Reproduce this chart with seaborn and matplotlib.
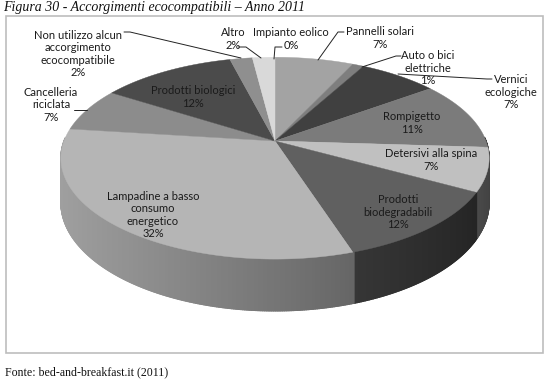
import numpy as np
import matplotlib
matplotlib.use("Agg")
import matplotlib.pyplot as plt
from matplotlib.patches import Rectangle
import seaborn as sns

# ---------------- data ----------------
categories = ["Impianto eolico", "Pannelli solari", "Auto o bici\nelettriche",
              "Vernici\necologiche", "Rompigetto", "Detersivi alla spina",
              "Prodotti\nbiodegradabili", "Lampadine a basso\nconsumo\nenergetico",
              "Cancelleria\nriciclata", "Prodotti biologici",
              "Non utilizzo alcun\naccorgimento\necocompatibile", "Altro"]
percentages = [0, 7, 1, 7, 11, 7, 12, 32, 7, 12, 2, 2]
slice_grays = ["#9a9a9a", "#a3a3a3", "#7e7e7e", "#404040", "#7b7b7b", "#c0c0c0",
               "#606060", "#b5b5b5", "#8c8c8c", "#4b4b4b", "#8f8f8f", "#d9d9d9"]
title = "Figura 30 - Accorgimenti ecocompatibili \u2013 Anno 2011"
source = "Fonte: bed-and-breakfast.it (2011)"

# ---------------- layout (pixel space) ----------------
label_pos = [(291, 39), (380, 38), (428, 68), (511, 92), (412, 123), (431, 160),
             (398, 212), (153, 215), (51, 105), (193, 97), (78, 54), (233, 39)]
leaders = [
    [(282, 47), (275, 47), (274, 59)],
    [(344, 32), (338, 32), (318, 60)],
    [(401, 56), (396, 56), (362, 67)],
    [(492, 79), (487, 79), (398, 74)],
    None, None, None, None,
    [(74, 110), (87, 110)],
    None,
    [(124, 32), (130, 32), (241, 58)],
    [(238, 47), (246, 47), (261, 58)],
]

sns.set_theme(style="white")
plt.rcParams['font.family'] = ['Lato', 'DejaVu Sans']

fig = plt.figure(figsize=(5.5, 3.82), dpi=100)
ax = fig.add_axes([0, 0, 1, 1])
ax.set_xlim(0, 550)
ax.set_ylim(382, 0)
ax.set_aspect('auto')
ax.axis('off')

cx, cy, rx0, kk, p, h = 275.0, 141.0, 211.0, 98.0, 0.17, 43.0


def proj(theta_deg, r=1.0, bottom=False):
    t = np.radians(theta_deg)
    u = r * np.cos(t)
    v = r * np.sin(t)
    s = 1.0 / (1.0 + p * v)
    X = cx + u * rx0 * s
    Y = cy - v * kk * s + (h * s if bottom else 0.0)
    return X, Y


def shade(hexcol, f):
    c = np.array(matplotlib.colors.to_rgb(hexcol)) * f
    return tuple(np.clip(c, 0, 1))


total = float(sum(percentages))
starts, ends = [], []
cum = 0.0
for val in percentages:
    a0 = 90.0 - cum / total * 360.0
    a1 = a0 - val / total * 360.0
    starts.append(a0)
    ends.append(a1)
    cum += val


def slice_at(theta):
    d = (90.0 - theta) % 360.0
    acc = 0.0
    for i, val in enumerate(percentages):
        acc += val / total * 360.0
        if d < acc:
            return i
    return len(percentages) - 1


# side walls (front half), back to front
step = 0.5
segs = []
for t in np.arange(178.0, 362.0, step):
    tm = t + step / 2
    segs.append((np.sin(np.radians(tm)), t, tm))
segs.sort(key=lambda z: -z[0])
for _, t, tm in segs:
    i = slice_at(tm)
    f = 0.6 + 0.28 * np.cos(np.radians(tm - 190.0))
    col = shade(slice_grays[i], f)
    x1, y1 = proj(t)
    x2, y2 = proj(t + step * 1.6)
    x3, y3 = proj(t + step * 1.6, bottom=True)
    x4, y4 = proj(t, bottom=True)
    ax.fill([x1, x2, x3, x4], [y1, y2, y3, y4], color=col, lw=0.9, ec=col)

# top faces
for i, val in enumerate(percentages):
    if val <= 0:
        continue
    a0, a1 = starts[i], ends[i]
    n = max(3, int(abs(a0 - a1) * 2))
    th = np.linspace(a0, a1, n)
    xs, ys = proj(th)
    ax.fill(np.concatenate([[cx], xs]), np.concatenate([[cy], ys]),
            color=slice_grays[i], lw=0.3, ec=slice_grays[i])

# labels
for i, (lab, val) in enumerate(zip(categories, percentages)):
    x, y = label_pos[i]
    ax.text(x, y, f"{lab}\n{val}%", ha='center', va='center', fontsize=8.0,
            color='#1a1a1a', linespacing=1.12)
    if leaders[i] is not None:
        lx = [q[0] for q in leaders[i]]
        ly = [q[1] for q in leaders[i]]
        ax.plot(lx, ly, color='#222222', lw=0.7)

# frame, title, source
ax.add_patch(Rectangle((6, 16), 537, 337, fill=False, ec='#bdbdbd', lw=1.2))
ax.text(3, 8, title, ha='left', va='center', fontsize=10.0, style='italic',
        family=['Liberation Serif', 'DejaVu Serif'], color='#111111')
ax.text(5, 372, source, ha='left', va='center', fontsize=8.6,
        family=['Liberation Serif', 'DejaVu Serif'], color='#111111')

fig.savefig("out.png", dpi=100)
